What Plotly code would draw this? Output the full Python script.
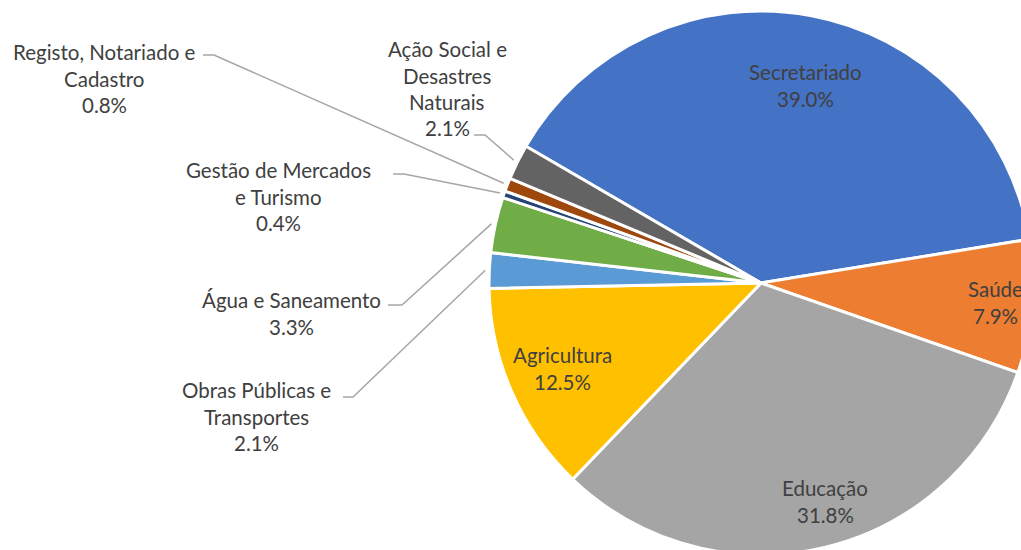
import math
import plotly.graph_objects as go

# ---------------- data ----------------
categories = ["Secretariado", "Saúde", "Educação", "Agricultura",
              "Obras Públicas e Transportes", "Água e Saneamento",
              "Gestão de Mercados e Turismo", "Registo, Notariado e Cadastro",
              "Ação Social e Desastres Naturais"]
values = [39.0, 7.9, 31.8, 12.5, 2.1, 3.3, 0.4, 0.8, 2.1]
label_lines = [["Secretariado"], ["Saúde"], ["Educação"], ["Agricultura"],
               ["Obras Públicas e", "Transportes"], ["Água e Saneamento"],
               ["Gestão de Mercados", "e Turismo"], ["Registo, Notariado e", "Cadastro"],
               ["Ação Social e", "Desastres", "Naturais"]]
colors = ["#4472C4", "#ED7D31", "#A5A5A5", "#FFC000", "#5B9BD5",
          "#70AD47", "#264478", "#9E480E", "#636363"]

# ---------------- layout (pixels) ----------------
W, H = 1100, 600
CX, CY, R = 761, 283, 272
ROTATION = 300.2
# label anchor: centre x, first-line y (px)
label_pos = [(805, 72), (995, 289), (825, 488), (562, 355),
             (256, 390), (291, 300), (278, 170), (104, 52), (447, 49)]
PITCH = 26.5
# leader lines: (start x, y, elbow x) for outside labels, None for inside
leaders = [None, None, None, None,
           (343, 397, 353), (388, 305, 402), (393, 174, 404),
           (203, 55, 214), (474, 135, 485)]

def px(x):
    return x / W

def py(y):
    return 1 - y / H

fig = go.Figure(go.Pie(
    labels=categories, values=values, sort=False, direction="clockwise",
    rotation=ROTATION, marker=dict(colors=colors, line=dict(color="white", width=3)),
    textinfo="none", textposition="none", hoverinfo="skip", showlegend=False,
    domain=dict(x=[px(CX - R), px(CX + R)], y=[py(CY + R), py(CY - R)]),
))

total = sum(values)
annotations = []
shapes = []
cum = 0.0
for i, v in enumerate(values):
    mid = ROTATION + 360 * (cum + v / 2) / total
    cum += v
    lines = label_lines[i] + [f"{v:.1f}%"]
    lx, ly = label_pos[i]
    for k, t in enumerate(lines):
        annotations.append(dict(
            x=px(lx), y=py(ly + k * PITCH), xref="paper", yref="paper",
            text=t, showarrow=False, xanchor="center", yanchor="middle",
            font=dict(family="Lato", size=20.5, color="#404040")))
    if leaders[i] is not None:
        sx, sy, ex = leaders[i]
        a = math.radians(mid)
        rr = R + 4
        tx = CX + rr * math.sin(a)
        ty = CY - rr * math.cos(a)
        shapes.append(dict(
            type="path", xref="paper", yref="paper",
            path=f"M {px(sx)},{py(sy)} L {px(ex)},{py(sy)} L {px(tx)},{py(ty)}",
            line=dict(color="#A6A6A6", width=1.5)))

fig.update_layout(
    width=W, height=H, margin=dict(l=0, r=0, t=0, b=0),
    paper_bgcolor="white", plot_bgcolor="white",
    annotations=annotations, shapes=shapes,
)

fig.write_html("out.html", post_script=(
    "document.body.style.margin='0';"
    "document.body.style.overflow='hidden';"
    "document.documentElement.style.overflow='hidden';"))
